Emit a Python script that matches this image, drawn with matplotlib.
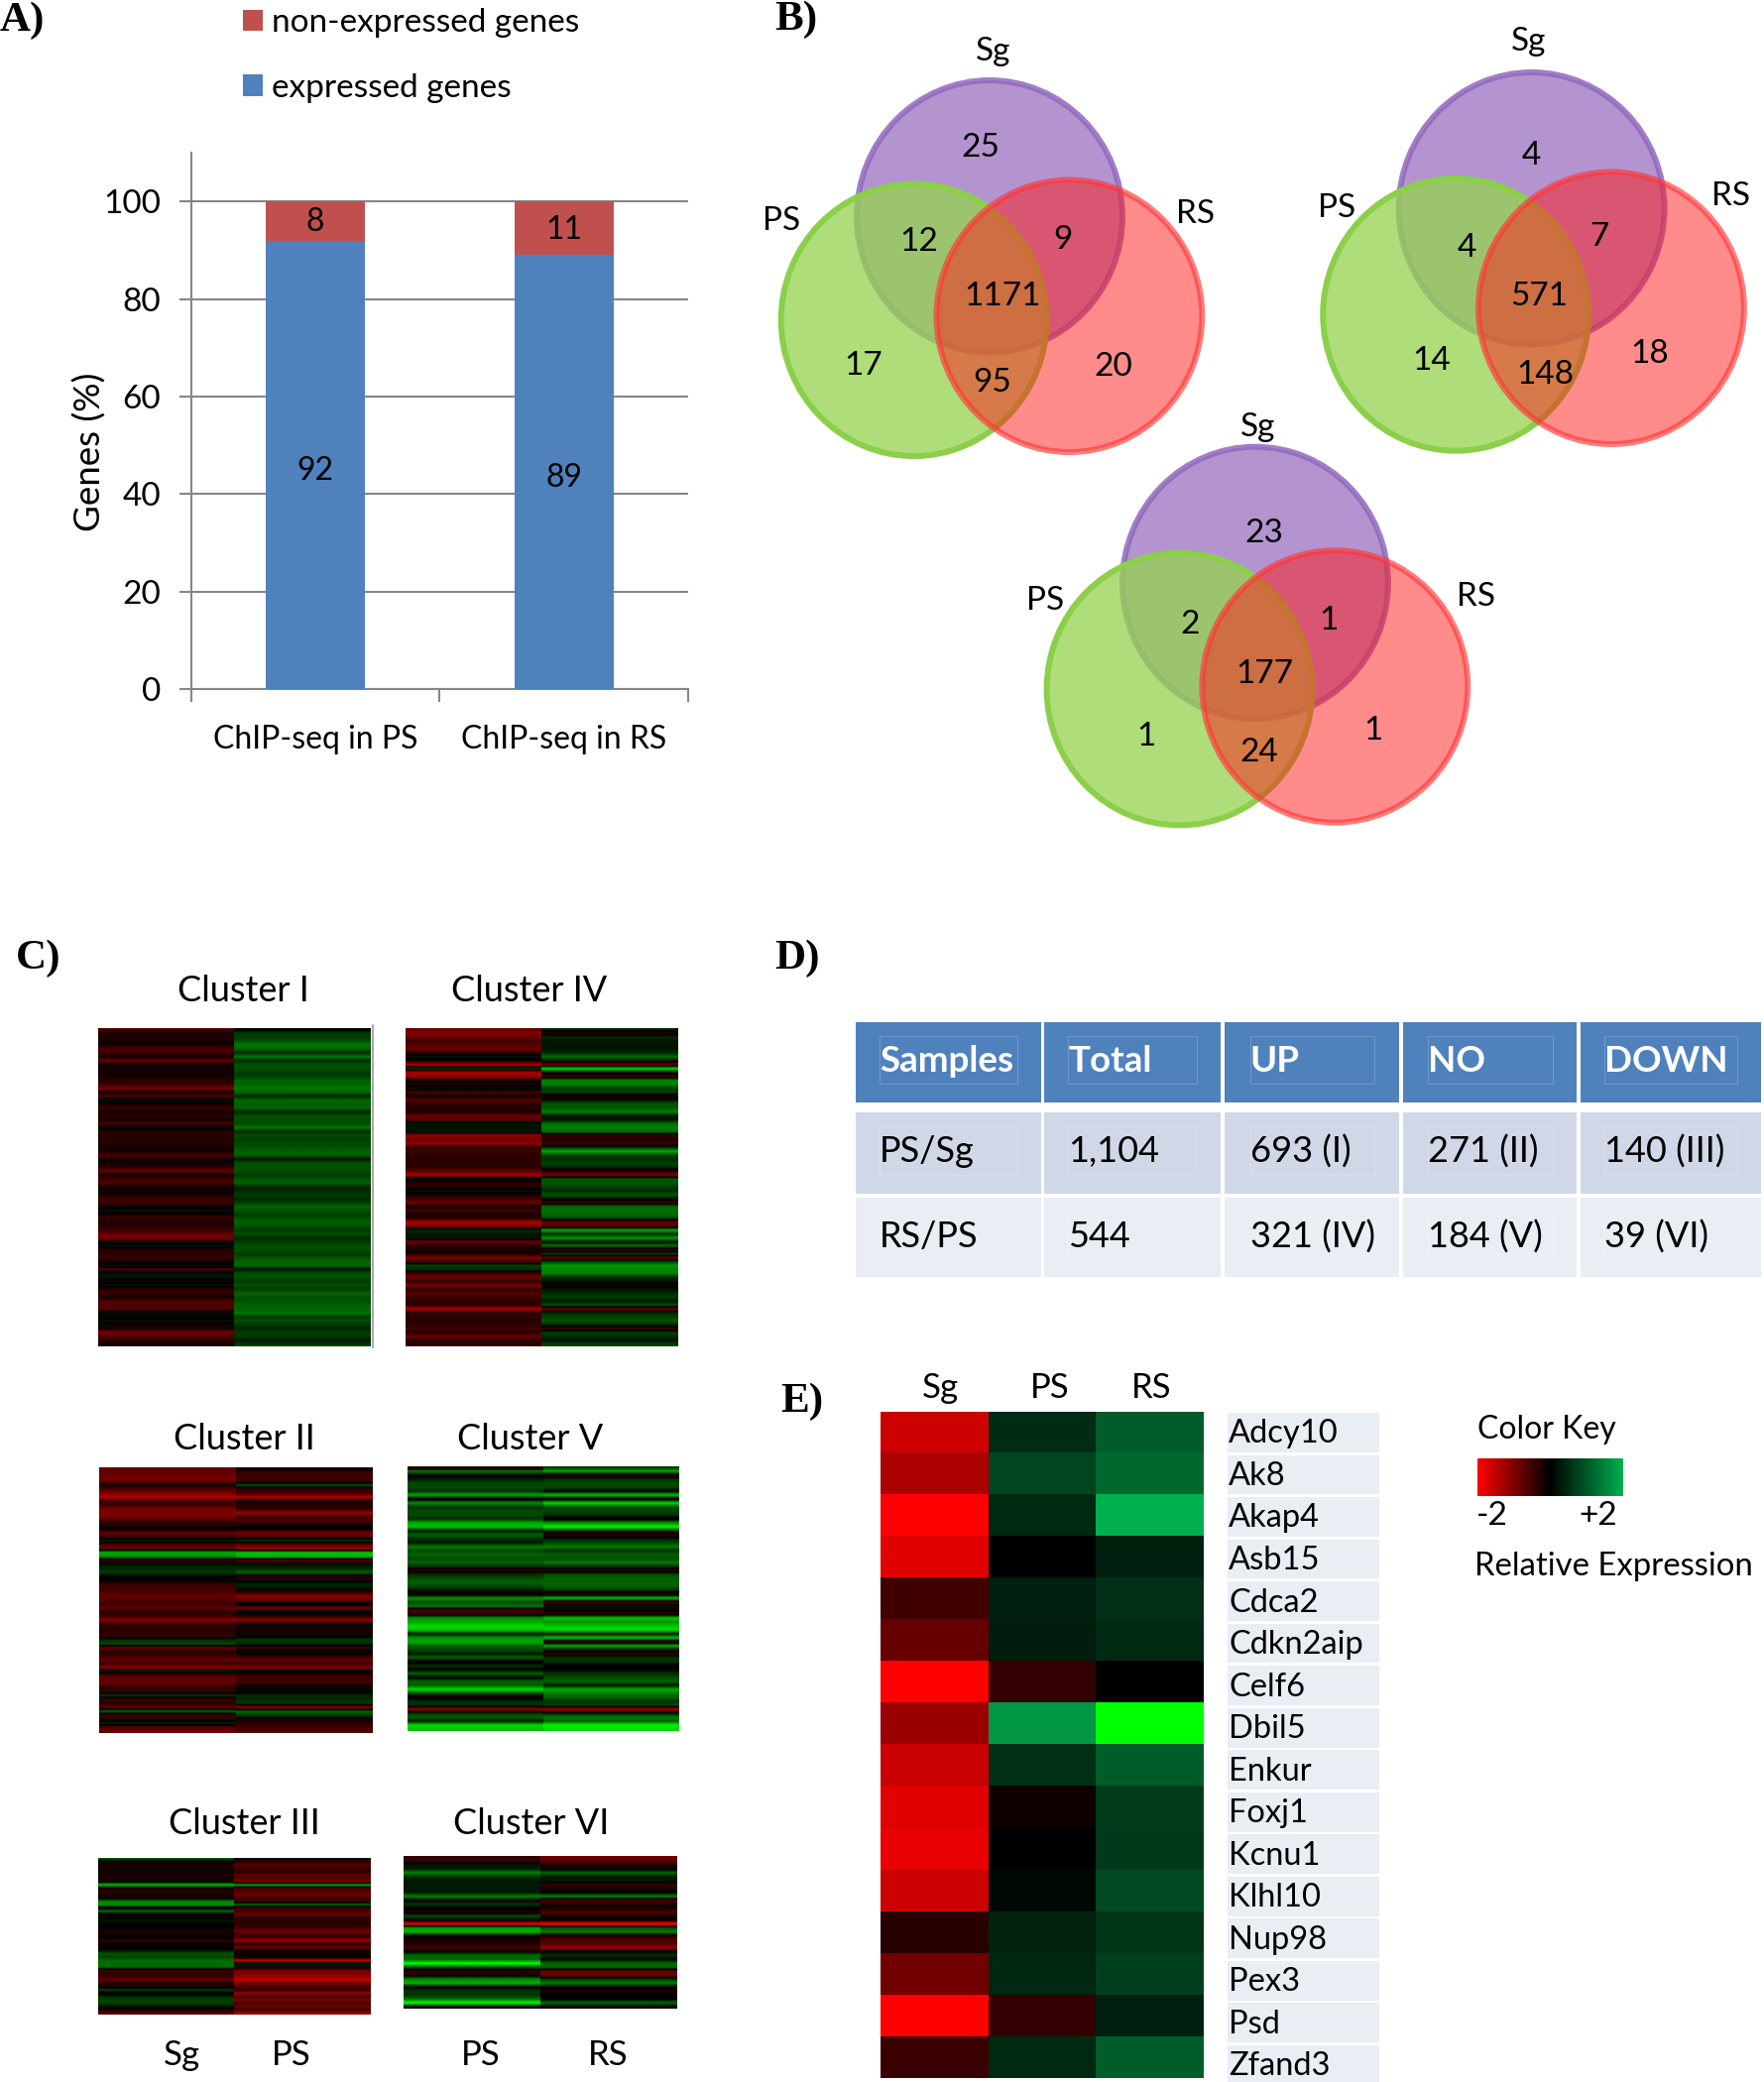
import matplotlib
matplotlib.use("Agg")
import matplotlib.pyplot as plt
import numpy as np
from matplotlib.colors import LinearSegmentedColormap
from matplotlib.patches import Ellipse, Rectangle

# ---------- data ----------
categories = ["ChIP-seq in PS", "ChIP-seq in RS"]
expressed = [92, 89]
non_expressed = [8, 11]

venn_1 = [25, 12, 9, 1171, 17, 95, 20]
venn_2 = [4, 4, 7, 571, 14, 148, 18]
venn_3 = [23, 2, 1, 177, 1, 24, 1]
venn_sets = ["Sg", "PS", "RS"]

table_header = ["Samples", "Total", "UP", "NO", "DOWN"]
table_row_1 = ["PS/Sg", "1,104", "693 (I)", "271 (II)", "140 (III)"]
table_row_2 = ["RS/PS", "544", "321 (IV)", "184 (V)", "39 (VI)"]

genes = ["Adcy10", "Ak8", "Akap4", "Asb15", "Cdca2", "Cdkn2aip", "Celf6", "Dbil5",
         "Enkur", "Foxj1", "Kcnu1", "Klhl10", "Nup98", "Pex3", "Psd", "Zfand3"]
expr_sg = [-1.6, -1.33, -2, -1.75, -.5, -.8, -2, -1.2, -1.57, -1.75, -1.82, -1.6, -.31, -.88, -2, -.44]
expr_ps = [.5, .78, .48, 0, .36, .34, -.38, 1.7, .55, -.12, 0, .09, .39, .45, -.38, .48]
expr_rs = [1.05, 1.18, 2, .36, .55, .48, 0, 3, 1.05, .68, .66, .84, .6, .73, .36, 1.05]

c1_a = [-4,-1,-2,-1,-1,-4,-3,-1,-5,-1,-1,-1,-1,-2,-3,-6,-1,-4,1,-1,-3,-1,-2,-1,-4,1,-2,-2,-2,-2,-1,-1,-4,-1,-1,-2,-5,-1,-3,-4,-1,-1,-1,-3,-3,-1,1,-1,-3,-1,-2,-3,-5,-6,-1,1,-2,-2,-3,-1,1,-4,1,1,-1,1,-2,-3,-1,-4,-4,-4,1,-1,1,-1,-1,-6,-4,-2,-1]
c1_b = [-1,3,3,4,6,5,2,6,2,4,4,3,3,5,5,6,5,2,5,5,5,2,4,4,4,6,2,4,3,4,4,5,5,1,4,4,4,3,4,5,2,2,3,2,3,5,4,3,4,5,4,3,4,2,3,4,4,3,4,5,5,1,4,4,3,4,3,5,4,4,5,5,6,3,4,3,2,3,3,1,3]
c4_a = [-5,-6,-5,-3,-4,-5,-2,1,-1,-8,3,-8,-7,-1,-1,1,-3,-1,-4,-2,-2,-1,-5,-4,1,1,1,-7,-5,-7,-2,-3,-2,-2,-2,-2,-4,-8,1,-2,-2,1,-1,-3,-5,-1,-3,-1,-2,-8,-6,2,1,1,-5,-2,-1,-1,-6,-3,3,2,-3,-5,-2,-6,-2,-4,-3,-2,-2,-8,-2,-2,-2,-2,-3,-2,-5,-2,-2]
c4_b = [2,-2,2,1,1,1,2,5,1,-5,10,1,-3,6,6,3,3,-2,1,4,4,6,1,1,5,6,5,-3,-1,-3,2,8,3,2,3,2,-2,-6,4,4,3,2,4,1,-3,5,5,5,3,-5,-4,8,2,7,1,5,-3,3,-5,3,7,6,6,2,1,-1,1,2,3,1,4,-5,2,3,4,2,-3,3,2,1,3]
c2_a = [-5,-5,-6,-5,-1,-4,-6,-9,-3,-3,-6,-6,-6,-3,-2,0,-5,-3,2,-4,-5,9,7,-3,1,2,3,0,0,-3,-3,-4,-5,-4,-3,-5,-2,-3,-7,-3,-2,-2,-3,2,4,-5,-2,-3,-5,-3,-7,2,-4,-5,-5,-2,-3,3,-3,-2,-5,5,-3,-2,2,-4,-5]
c2_b = [-1,-3,-3,-3,4,-3,-3,-9,-1,-2,-2,-8,-3,-4,-1,0,-6,-4,3,-5,-8,10,9,-5,1,2,5,-2,-1,2,1,-2,-7,-5,1,-6,1,-2,-7,-1,-1,-1,-1,3,2,-3,1,-2,-5,-3,-7,1,-3,-3,-3,1,-1,2,2,3,-7,5,3,-1,-2,-3,-4]
c5_a = [-2,5,0,1,3,3,2,7,-1,6,2,3,3,2,7,8,1,4,2,1,5,3,4,3,4,2,-2,2,3,4,3,1,-1,6,3,5,-3,-2,6,7,9,8,1,6,7,4,3,1,4,-1,2,0,4,0,4,4,9,3,-1,2,2,-6,2,4,1,9,8]
c5_b = [2,7,-2,2,3,3,0,8,-1,9,3,3,2,-1,6,10,2,-2,1,3,5,2,4,3,5,2,-2,3,4,4,4,2,-2,8,-3,1,0,-2,8,6,8,9,1,8,-3,7,1,-2,2,2,0,0,2,3,4,1,7,5,4,2,3,-7,1,5,4,10,9]
c3_a = [4,-1,-1,-1,-1,-1,-1,-1,9,-1,-2,-1,-1,6,7,-1,5,-1,0,1,0,0,-1,-1,0,-2,0,-1,1,4,3,5,5,5,-3,-2,-3,-4,-2,-1,3,-1,2,3,3,1,-1,-4]
c3_b = [-1,-2,-4,-3,-2,-4,-4,-6,8,-3,-4,-5,-3,-3,5,-3,-3,-5,-2,-2,-2,-3,-5,-3,-3,-7,-2,-5,-1,-1,1,-9,1,1,-5,-6,-7,-9,-5,-4,-2,-7,-3,-6,-3,-5,-3,-7]
c6_a = [-2,-2,1,1,5,2,1,1,1,1,5,0,2,0,-1,3,0,-9,6,7,0,-1,-1,-3,0,4,4,10,3,-2,-1,5,7,0,2,2,4,10,0]
c6_b = [-4,-4,-1,-1,4,1,1,-2,-1,0,5,-3,-1,-1,-3,-1,0,-10,3,5,-1,-3,-3,-6,0,2,0,4,4,-4,-4,2,5,0,-1,0,0,4,0]

# ---------- layout helpers (coordinates on the 1328 x 1568 sheet) ----------
W, H = 1328.0, 1568.0
plt.rcParams["font.family"] = ["Lato", "DejaVu Sans"]
fig = plt.figure(figsize=(17.79, 21.0), dpi=100, facecolor="white")


def sub_ax(x0, y0, x1, y1, **kw):
    return fig.add_axes([x0 / W, 1 - y1 / H, (x1 - x0) / W, (y1 - y0) / H], **kw)


sheet = fig.add_axes([0, 0, 1, 1], zorder=5)
sheet.set_xlim(0, W)
sheet.set_ylim(H, 0)
sheet.axis("off")
sheet.patch.set_alpha(0)


def put(x, y, s, size=23, ha="center", va="center", **kw):
    sheet.text(x, y + 1.5, s, fontsize=size, ha=ha, va=va, color=kw.pop("color", "black"), **kw)


for letter, lx, ly in [("A)", 0, 14), ("B)", 583, 13), ("C)", 12, 720), ("D)", 583, 720), ("E)", 588, 1054)]:
    put(lx, ly, letter, size=31, ha="left", family="Liberation Serif", fontweight="bold")

# ---------- A: stacked bars ----------
ax = sub_ax(144, 115, 518, 519)
x = np.arange(len(categories))
b1 = ax.bar(x, expressed, width=0.4, color="#4F81BD", zorder=3, label="expressed genes")
b2 = ax.bar(x, non_expressed, width=0.4, bottom=expressed, color="#C0504D", zorder=3,
            label="non-expressed genes")
ax.set_xlim(-0.5, 1.5)
ax.set_ylim(0, 110)
ax.set_yticks(range(0, 101, 20))
ax.set_xticks([-0.5, 0.5, 1.5])
ax.set_xticklabels([])
ax.set_xticks(x, minor=True)
ax.set_xticklabels(categories, minor=True, fontsize=23)
ax.tick_params(axis="x", which="minor", length=0, pad=26)
ax.tick_params(axis="x", which="major", length=9, width=1.5, color="#868686")
ax.tick_params(axis="y", length=9, width=1.5, color="#868686", labelsize=24, pad=13)
ax.grid(axis="y", color="#868686", lw=1.5, zorder=0)
for side in ["top", "right"]:
    ax.spines[side].set_visible(False)
for side in ["left", "bottom"]:
    ax.spines[side].set_color("#868686")
    ax.spines[side].set_linewidth(1.5)
ax.set_ylabel("Genes (%)", fontsize=26.5)
ax.yaxis.set_label_coords(-0.171, 0.443)
for i in x:
    ax.text(i, expressed[i] / 2 - 1.2, expressed[i], ha="center", va="center", fontsize=23, zorder=4)
    ax.text(i, expressed[i] + non_expressed[i] / 2 - 0.3, non_expressed[i], ha="center", va="center", fontsize=23, zorder=4)
sheet.legend([b2, b1], ["non-expressed genes", "expressed genes"], frameon=False, fontsize=24,
             loc="upper left", bbox_to_anchor=(183 / W, 1 - 6 / H), bbox_transform=fig.transFigure,
             handlelength=0.6, handleheight=0.6, handletextpad=0.26, labelspacing=1.07, borderpad=0, borderaxespad=0)

# ---------- B: Venn ----------
venn_layouts = [
    dict(vals=venn_1, centers=[(745, 163), (688, 241), (805, 238)],
         names=[(748, 37), (588, 165), (900, 160)],
         spots=[(738, 110), (692, 181), (800, 179), (755, 222), (650, 274), (747, 287), (838, 275)]),
    dict(vals=venn_2, centers=[(1153, 157), (1096, 237), (1213, 232)],
         names=[(1151, 30), (1006, 155), (1303, 146)],
         spots=[(1153, 116), (1104, 185), (1204, 177), (1159, 222), (1078, 270), (1163, 281), (1242, 265)]),
    dict(vals=venn_3, centers=[(945, 439), (888, 519), (1005, 517)],
         names=[(947, 320), (787, 451), (1111, 448)],
         spots=[(952, 400), (896, 469), (1000, 466), (952, 506), (863, 553), (948, 565), (1034, 549)]),
]
face = [(179/255, 148/255, 207/255, 1.0), (150/255, 211/255, 82/255, 0.77), (1, 25/255, 25/255, 0.5)]
edge = [(145/255, 105/255, 190/255, 0.85), (140/255, 207/255, 74/255, 1.0), (1, 55/255, 55/255, 0.65)]
for v in venn_layouts:
    for c, fc, ec in zip(v["centers"], face, edge):
        sheet.add_patch(Ellipse(c, 200, 205, facecolor=fc, edgecolor=ec, lw=4.3))
    for (nx, ny), nm in zip(v["names"], venn_sets):
        put(nx, ny, nm, size=24)
    for (sx, sy), val in zip(v["spots"], v["vals"]):
        put(sx, sy, str(val), size=24)

# ---------- C: cluster heat maps ----------
cmap_rg = LinearSegmentedColormap.from_list("rg", ["#FF0000", "#000000", "#00FF00"])
cluster_layout = [
    (c1_a, c1_b, (74, 774, 279, 1014), "Cluster I", (183, 745), 13),
    (c4_a, c4_b, (305, 774, 510, 1014), "Cluster IV", (398, 745), 12),
    (c2_a, c2_b, (75, 1105, 280, 1305), "Cluster II", (184, 1082), 13),
    (c5_a, c5_b, (307, 1104, 511, 1304), "Cluster V", (399, 1082), 10.5),
    (c3_a, c3_b, (74, 1399, 279, 1517), "Cluster III", (184, 1372), 12),
    (c6_a, c6_b, (304, 1398, 509, 1513), "Cluster VI", (400, 1372), 10),
]
for a, b, box, title, tpos, span in cluster_layout:
    hax = sub_ax(*box)
    n = len(a)
    for col, vals in enumerate((a, b)):
        hax.imshow(np.array(vals, dtype=float).reshape(-1, 1), cmap=cmap_rg, vmin=-span, vmax=span,
                   aspect="auto", interpolation="bilinear", extent=(col, col + 1, n, 0))
    hax.set_xlim(0, 2)
    hax.set_ylim(n, 0)
    hax.axis("off")
    put(tpos[0], tpos[1], title, size=26)
sheet.plot([281, 281], [772, 1015], color="#999999", lw=1.2)
for lbl, lx in [("Sg", 137), ("PS", 219), ("PS", 362), ("RS", 458)]:
    put(lx, 1546, lbl, size=25)

# ---------- D: table ----------
col_edges = [(644, 784), (786, 919), (922, 1053), (1056, 1187), (1190, 1326)]
row_edges = [(770, 830), (838, 899), (902, 962)]
row_colors = ["#4F81BD", "#D0D8E8", "#E9EDF4"]
line_colors = ["#6E97C8", "#D9DFEC", "#EEF1F7"]
text_x = [662, 804, 941, 1075, 1208]
text_y = [798, 866, 930]
for r, row in enumerate([table_header, table_row_1, table_row_2]):
    y0, y1 = row_edges[r]
    for c, cell in enumerate(row):
        x0, x1 = col_edges[c]
        sheet.add_patch(Rectangle((x0, y0), x1 - x0, y1 - y0, fc=row_colors[r], ec="none"))
        sheet.add_patch(Rectangle((text_x[c], y0 + 10), x1 - text_x[c] - 18, y1 - y0 - 24, fc="none",
                                  ec=line_colors[r], lw=0.8))
        if r == 0:
            put(text_x[c], text_y[r], cell, size=26.5, ha="left", color="white", fontweight="bold")
        else:
            put(text_x[c], text_y[r], cell, size=26, ha="left")

# ---------- E: gene heat map ----------
cmap_e = LinearSegmentedColormap.from_list(
    "rbg", [(0, "#FF0000"), (0.4, "#000000"), (0.8, "#00B050"), (1, "#00FF00")])
hax = sub_ax(663, 1063, 906, 1565)
matrix = np.column_stack([expr_sg, expr_ps, expr_rs])
hax.imshow(matrix, cmap=cmap_e, vmin=-2, vmax=3, aspect="auto", interpolation="nearest")
hax.axis("off")
for nm, lx in [("Sg", 708), ("PS", 790), ("RS", 867)]:
    put(lx, 1044, nm, size=25)

pitch = 31.75
for i, g in enumerate(genes):
    top = 1064 + i * pitch
    sheet.add_patch(Rectangle((924, top), 114, min(pitch - 2, H - top), fc="#E9EDF4", ec="none"))
    put(925, top + 14.5, g, size=23.5, ha="left")

kax = sub_ax(1112, 1098, 1221, 1127)
key_cmap = LinearSegmentedColormap.from_list("key", ["#FF0000", "#000000", "#00B050"])
kax.imshow(np.linspace(-2, 2, 256).reshape(1, -1), cmap=key_cmap, vmin=-2, vmax=2, aspect="auto")
kax.axis("off")
put(1112, 1075, "Color Key", size=23, ha="left")
put(1123, 1140, "-2", size=24)
put(1203, 1140, "+2", size=24)
put(1110, 1178, "Relative Expression", size=23.7, ha="left")

fig.savefig("out.png", dpi=100, facecolor="white")
